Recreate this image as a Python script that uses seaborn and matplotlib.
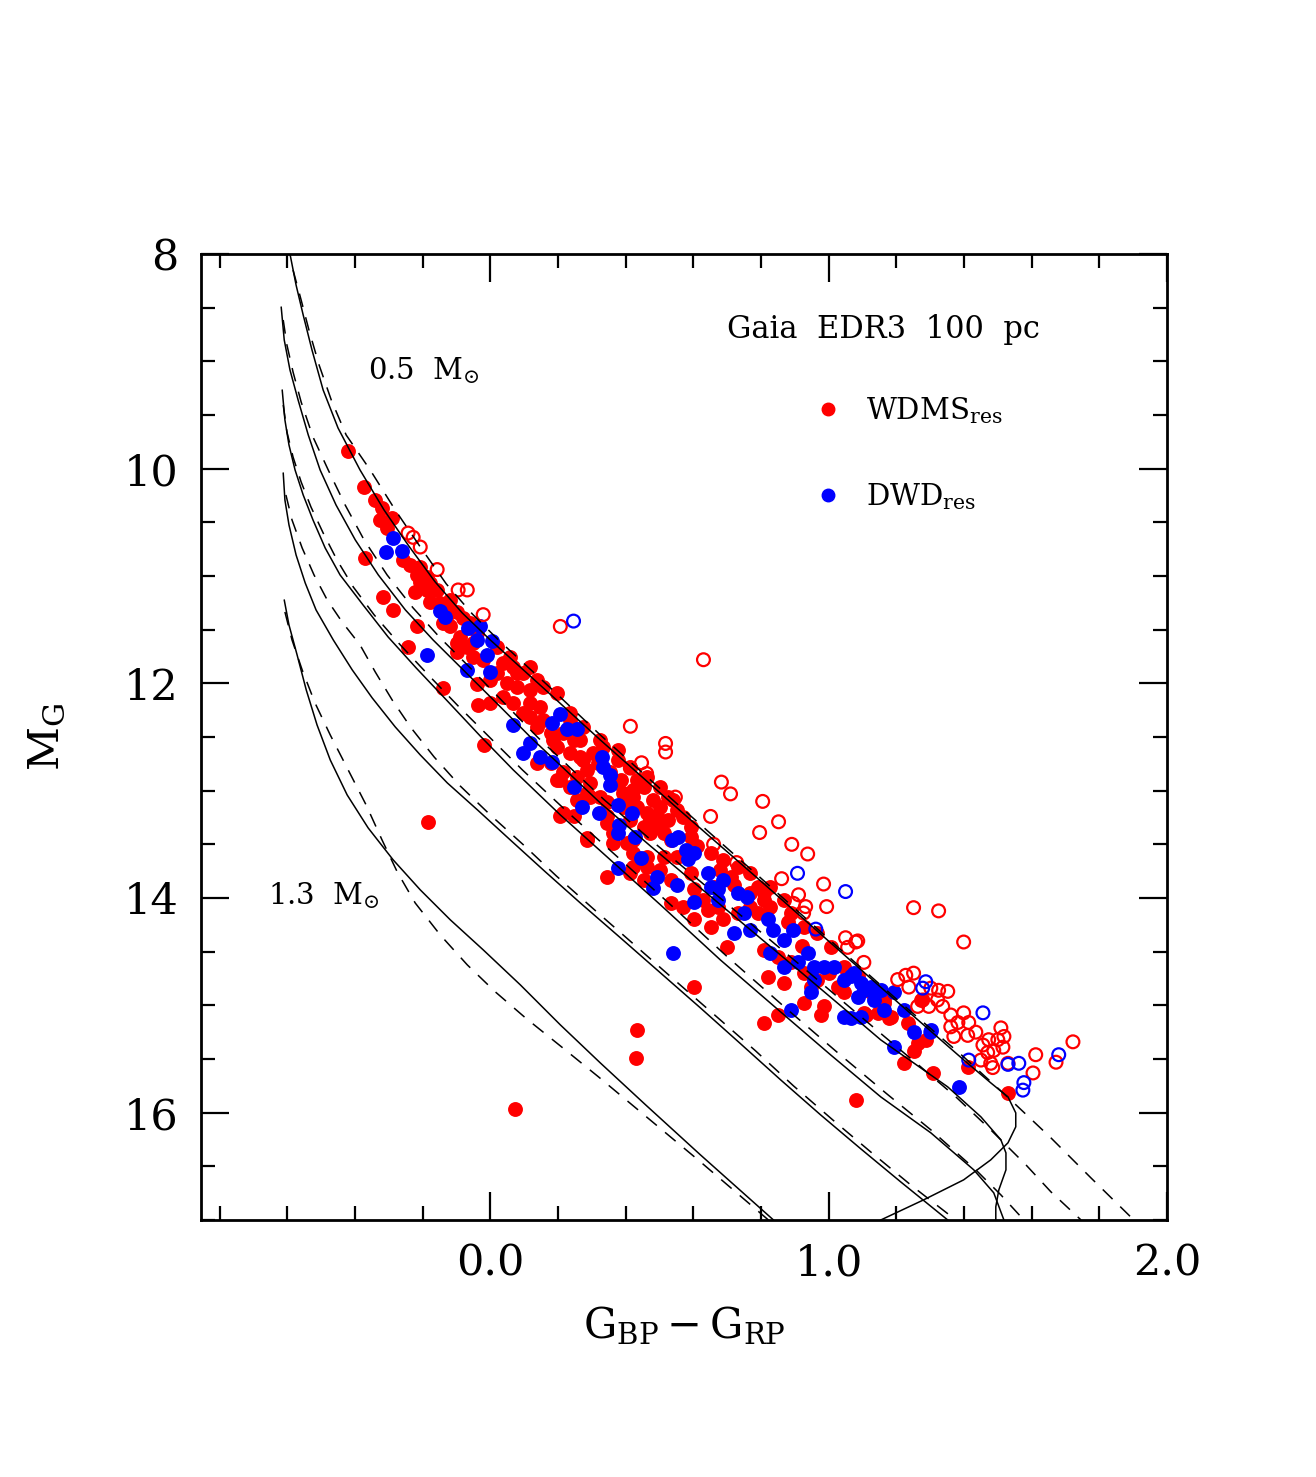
import numpy as np
import pandas as pd
import matplotlib
matplotlib.use('Agg')
import matplotlib.pyplot as plt
from matplotlib.lines import Line2D
from matplotlib.ticker import MultipleLocator, FixedLocator, FormatStrFormatter
import seaborn as sns

## cooling tracks (solid) and their dashed companions, colour vs M_G
trk_a_x = [-0.592, -0.574, -0.553, -0.527, -0.494, -0.450, -0.385, -0.314, -0.243, -0.163, -0.083, 0.000,
           0.163, 0.325, 0.562, 0.799, 1.036, 1.213, 1.399, 1.479, 1.530, 1.553, 1.553, 1.530, 1.479,
           1.399, 1.281, 1.154]
trk_a_y = [8.0, 8.289, 8.568, 8.894, 9.267, 9.621, 10.012, 10.385, 10.711, 11.055, 11.344, 11.596,
           12.061, 12.527, 13.189, 13.841, 14.502, 14.996, 15.508, 15.722, 15.853, 16.002, 16.132, 16.281,
           16.440, 16.626, 16.812, 17.0]
trk_b_x = [-0.618, -0.609, -0.592, -0.568, -0.538, -0.503, -0.456, -0.399, -0.331, -0.251, -0.169, -0.080,
           0.024, 0.127, 0.228, 0.325, 0.473, 0.621, 0.769, 0.917, 1.036, 1.154, 1.251, 1.352, 1.450,
           1.509, 1.524, 1.524, 1.503, 1.494, 1.494]
trk_b_y = [8.494, 8.801, 9.081, 9.360, 9.686, 10.012, 10.338, 10.664, 10.990, 11.316, 11.596, 11.875,
           12.201, 12.527, 12.825, 13.114, 13.515, 13.906, 14.297, 14.688, 15.005, 15.322, 15.536, 15.760,
           16.039, 16.253, 16.375, 16.533, 16.719, 16.877, 17.0]
trk_c_x = [-0.615, -0.607, -0.595, -0.577, -0.553, -0.524, -0.488, -0.444, -0.376, -0.302, -0.219, -0.127,
           -0.030, 0.068, 0.207, 0.355, 0.503, 0.680, 0.858, 1.006, 1.154, 1.302, 1.429, 1.488, 1.518]
trk_c_y = [9.267, 9.546, 9.779, 10.012, 10.245, 10.478, 10.739, 10.990, 11.270, 11.568, 11.857, 12.164,
           12.490, 12.807, 13.226, 13.645, 14.064, 14.577, 15.061, 15.462, 15.853, 16.188, 16.533, 16.747, 17.0]
trk_d_x = [-0.612, -0.607, -0.595, -0.574, -0.547, -0.515, -0.464, -0.408, -0.349, -0.281, -0.207, -0.127,
           -0.038, 0.059, 0.163, 0.266, 0.385, 0.503, 0.621, 0.740, 0.858, 0.976, 1.095, 1.213, 1.352]
trk_d_y = [10.040, 10.292, 10.524, 10.804, 11.065, 11.316, 11.596, 11.875, 12.136, 12.406, 12.667, 12.928,
           13.179, 13.459, 13.757, 14.046, 14.372, 14.698, 15.024, 15.359, 15.694, 16.020, 16.337, 16.645, 17.0]
trk_e_x = [-0.609, -0.595, -0.571, -0.544, -0.512, -0.473, -0.423, -0.361, -0.287, -0.207, -0.118, -0.021,
           0.089, 0.207, 0.325, 0.459, 0.621, 0.837]
trk_e_y = [11.223, 11.456, 11.735, 12.061, 12.388, 12.714, 13.040, 13.347, 13.645, 13.924, 14.204, 14.483,
           14.810, 15.182, 15.536, 15.927, 16.393, 17.0]

dsh_a_x = [-0.583, -0.559, -0.536, -0.506, -0.470, -0.426, -0.355, -0.281, -0.207, -0.130, -0.053, 0.024,
           0.178, 0.325, 0.562, 0.799, 1.036, 1.213, 1.399, 1.538, 1.657, 1.775, 1.902]
dsh_a_y = [8.149, 8.429, 8.708, 9.034, 9.360, 9.686, 10.012, 10.385, 10.729, 11.074, 11.354, 11.596,
           12.043, 12.481, 13.151, 13.813, 14.483, 14.977, 15.480, 15.881, 16.235, 16.607, 17.0]
dsh_b_x = [-0.612, -0.601, -0.583, -0.559, -0.524, -0.479, -0.429, -0.373, -0.305, -0.228, -0.148, -0.059,
           0.041, 0.142, 0.243, 0.337, 0.485, 0.633, 0.781, 0.929, 1.047, 1.166, 1.272, 1.376, 1.479,
           1.583, 1.657, 1.746]
dsh_b_y = [8.615, 8.848, 9.099, 9.379, 9.705, 10.012, 10.338, 10.664, 10.990, 11.298, 11.577, 11.857,
           12.183, 12.509, 12.807, 13.086, 13.487, 13.878, 14.269, 14.660, 14.977, 15.294, 15.573, 15.853,
           16.160, 16.486, 16.738, 17.0]
dsh_c_x = [-0.612, -0.601, -0.583, -0.559, -0.530, -0.494, -0.453, -0.405, -0.343, -0.266, -0.183, -0.095,
           0.000, 0.095, 0.231, 0.379, 0.527, 0.701, 0.876, 1.024, 1.172, 1.302, 1.435, 1.509, 1.577]
dsh_c_y = [9.407, 9.658, 9.891, 10.124, 10.357, 10.599, 10.851, 11.102, 11.363, 11.642, 11.922, 12.211,
           12.509, 12.807, 13.207, 13.626, 14.046, 14.549, 15.033, 15.434, 15.825, 16.160, 16.533, 16.766, 17.0]
dsh_d_x = [-0.604, -0.586, -0.556, -0.521, -0.482, -0.438, -0.385, -0.340, -0.290, -0.234, -0.166, -0.089,
           0.000, 0.098, 0.195, 0.305, 0.423, 0.544, 0.666, 0.784, 0.896, 1.012, 1.124, 1.246, 1.376]
dsh_d_y = [10.245, 10.478, 10.739, 10.990, 11.223, 11.428, 11.642, 11.894, 12.155, 12.415, 12.686, 12.956,
           13.226, 13.505, 13.794, 14.102, 14.428, 14.763, 15.098, 15.424, 15.750, 16.067, 16.365, 16.682, 17.0]
dsh_e_x = [-0.607, -0.586, -0.556, -0.518, -0.473, -0.420, -0.367, -0.320, -0.275, -0.222, -0.148, -0.068,
           0.015, 0.104, 0.207, 0.320, 0.444, 0.621, 0.822]
dsh_e_y = [11.335, 11.596, 11.875, 12.183, 12.481, 12.807, 13.133, 13.459, 13.757, 14.046, 14.344, 14.623,
           14.875, 15.117, 15.378, 15.667, 15.993, 16.458, 17.0]

## WDMS resolved, filled (red)
wdms_x = [-0.42, -0.373, -0.34, -0.32, -0.325, -0.29, -0.305, -0.37, -0.257, -0.237, -0.216, -0.207, -0.222,
          -0.186, -0.317, -0.178, -0.287, -0.148, -0.127, -0.098, -0.080, -0.139, -0.118, -0.216, -0.089,
          -0.038, -0.068, -0.243, -0.098, -0.050, -0.021, 0.038, 0.068, 0.098, 0.139, 0.021, 0.050, 0.080,
          0.118, 0.038, 0.068, 0.118, 0.148, -0.139, -0.038, -0.036, 0.098, 0.157, 0.139, 0.178, 0.216,
          0.246, 0.275, 0.198, 0.237, 0.266, 0.305, 0.317, 0.178, -0.018, 0.139, 0.216, 0.257, 0.296,
          0.198, 0.237, 0.296, 0.355, 0.385, 0.393, 0.423, 0.453, 0.482, 0.503, 0.524, 0.473, 0.414,
          0.393, 0.216, 0.246, 0.346, 0.364, 0.473, 0.512, 0.287, -0.183, 0.533, 0.405, 0.237, 0.186,
          0.287, 0.207, 0.376, 0.423, 0.287, 0.325, 0.257, 0.346, 0.405, 0.435, 0.464, 0.494, 0.494,
          0.453, 0.207, 0.346, 0.287, 0.364, 0.423, 0.592, 0.612, 0.553, 0.423, 0.464, 0.512, 0.423,
          0.464, 0.503, 0.346, 0.414, 0.453, 0.533, 0.592, 0.601, 0.680, 0.710, 0.660, 0.533, 0.571,
          0.630, 0.642, 0.672, 0.601, 0.651, 0.689, 0.731, 0.769, 0.808, 0.790, 0.828, 0.769, 0.808,
          0.701, 0.820, 0.867, 0.808, 0.849, 0.888, 0.926, 0.967, 1.027, 0.947, 0.926, 0.985, 0.976,
          0.808, 0.849, 0.601, 0.435, 1.044, 1.086, 1.124, 1.163, 1.183, 1.104, 1.145, 1.044, 1.109,
          1.178, 1.234, 1.263, 1.287, 1.251, 1.222, 1.308, 1.411, 1.530, 1.080, 1.272, 1.163, 0.432,
          0.074, 0.88, 0.92, 1.00, 0.72,
          0.000, 0.080, 0.118, 0.157, 0.198, 0.059, 0.021, -0.050, -0.098, -0.059, -0.118, -0.157, -0.186,
          -0.207, -0.178, -0.127, 0.000, 0.118, 0.237, 0.266, 0.334, 0.376, 0.414, 0.464, 0.503, 0.541,
          0.524, 0.553, 0.571, 0.592, 0.275, 0.325, 0.376, 0.435, 0.651, 0.689, 0.731, 0.769, 0.790,
          0.828, 0.867, 0.888, 0.926, 0.967, 1.006]
wdms_y = [9.84, 10.17, 10.29, 10.37, 10.48, 10.46, 10.55, 10.83, 10.85, 10.90, 10.99, 11.06, 11.15,
          11.13, 11.20, 11.24, 11.32, 11.25, 11.36, 11.34, 11.39, 11.44, 11.47, 11.47, 11.57,
          11.53, 11.66, 11.66, 11.71, 11.75, 11.78, 11.81, 11.85, 11.90, 11.97, 11.90, 12.00, 12.03,
          12.06, 12.13, 12.18, 12.18, 12.22, 12.04, 12.01, 12.20, 12.28, 12.34, 12.41, 12.46, 12.46,
          12.53, 12.41, 12.59, 12.65, 12.69, 12.65, 12.74, 12.74, 12.57, 12.74, 12.83, 12.87, 12.93,
          12.90, 12.97, 13.06, 12.83, 12.90, 13.02, 12.99, 12.97, 13.09, 13.15, 13.27, 13.27, 13.27,
          13.15, 13.21, 13.24, 13.24, 13.39, 13.39, 13.39, 13.46, 13.29, 13.46, 13.49, 12.34, 12.53,
          12.81, 12.90, 12.93, 13.06, 13.02, 13.06, 13.09, 13.11, 13.11, 13.15, 13.21, 13.24, 13.34,
          13.34, 13.24, 13.30, 13.44, 13.49, 13.46, 13.43, 13.52, 13.62, 13.58, 13.62, 13.62, 13.71,
          13.71, 13.74, 13.80, 13.77, 13.83, 13.83, 13.77, 13.92, 13.74, 13.80, 13.90, 14.05, 14.08,
          14.02, 14.11, 14.08, 14.20, 14.27, 14.20, 14.14, 14.08, 14.02, 14.14, 14.08, 13.95, 13.95,
          14.46, 14.74, 14.79, 14.48, 14.55, 14.60, 14.70, 14.76, 14.83, 14.83, 14.98, 15.01, 15.09,
          15.16, 15.09, 14.83, 15.23, 14.64, 14.73, 14.88, 14.95, 15.11, 15.07, 15.07, 14.88, 15.09,
          15.12, 15.16, 15.35, 15.32, 15.43, 15.54, 15.63, 15.57, 15.82, 15.88, 14.95, 14.98, 15.49,
          15.97, 14.22, 14.45, 14.70, 13.88,
          11.968, 11.903, 11.847, 12.034, 12.089, 11.754, 11.661, 11.624, 11.624, 11.437, 11.223, 11.130, 11.009,
          10.916, 11.065, 11.316, 12.183, 12.313, 12.276, 12.527, 12.592, 12.714, 12.779, 12.872, 12.965, 13.086,
          13.058, 13.179, 13.245, 13.338, 12.714, 12.527, 12.620, 12.900, 13.580, 13.645, 13.710, 13.766, 13.897,
          13.897, 14.018, 14.139, 14.269, 14.325, 14.456]

## WDMS, open (red)
wdms_open_x = [-0.243, -0.228, -0.207, -0.157, -0.095, -0.068, -0.021, 0.207, 0.630, 0.414, 0.518, 0.518,
               0.414, 0.447, 0.462, 0.683, 0.710, 0.547, 0.805, 0.651, 0.852, 0.796, 0.891, 0.938, 0.660,
               0.728, 0.861, 0.985, 0.911, 0.896, 0.932, 0.994, 0.926, 1.050, 1.086, 1.056, 1.104, 1.204,
               1.251, 1.325, 1.399, 1.080, 1.228, 1.251, 1.302, 1.325, 1.352, 1.237, 1.322, 1.278, 1.263,
               1.296, 1.337, 1.361, 1.399, 1.382, 1.414, 1.435, 1.509, 1.500, 1.473, 1.456, 1.518, 1.515,
               1.488, 1.470, 1.479, 1.450, 1.530, 1.485, 1.612, 1.722, 1.604, 1.672, 1.361, 1.370, 1.411]
wdms_open_y = [10.60, 10.64, 10.73, 10.94, 11.13, 11.13, 11.36, 11.47, 11.78, 12.40, 12.56, 12.64,
               12.79, 12.74, 12.84, 12.92, 13.03, 13.06, 13.10, 13.24, 13.29, 13.39, 13.50, 13.59, 13.50,
               13.67, 13.82, 13.87, 13.97, 14.05, 14.08, 14.08, 14.14, 14.37, 14.40, 14.46, 14.60, 14.76,
               14.09, 14.12, 14.41, 14.41, 14.72, 14.70, 14.84, 14.86, 14.87, 14.83, 14.95, 14.95, 15.01,
               15.01, 15.01, 15.09, 15.07, 15.16, 15.16, 15.25, 15.21, 15.32, 15.32, 15.37, 15.29, 15.39,
               15.42, 15.44, 15.54, 15.51, 15.54, 15.58, 15.46, 15.34, 15.63, 15.53, 15.20, 15.29, 15.28]

## DWD resolved, filled (blue)
dwd_x = [-0.287, -0.308, -0.260, -0.148, -0.133, -0.186, -0.065, -0.030, -0.038, 0.006, -0.009, -0.068,
         0.000, 0.207, 0.183, 0.228, 0.257, 0.068, 0.118, 0.098, 0.148, 0.183, 0.331, 0.334, 0.355, 0.355,
         0.246, 0.272, 0.320, 0.376, 0.420, 0.379, 0.376, 0.429, 0.538, 0.556, 0.577, 0.601, 0.583, 0.444,
         0.376, 0.494, 0.482, 0.553, 0.601, 0.642, 0.651, 0.672, 0.689, 0.672, 0.731, 0.760, 0.749, 0.719,
         0.769, 0.820, 0.837, 0.867, 0.896, 0.828, 0.867, 0.908, 0.938, 0.956, 0.985, 1.015, 1.044, 1.074,
         1.104, 1.133, 1.163, 1.095, 1.044, 0.888, 0.947, 0.541, 1.192, 0.956, 1.065, 1.095, 1.124, 1.154,
         1.086, 1.192, 1.222, 1.251, 1.385, 1.302, 1.065]
dwd_y = [10.65, 10.78, 10.77, 11.33, 11.38, 11.74, 11.48, 11.47, 11.60, 11.61, 11.74, 11.88,
         11.89, 12.29, 12.37, 12.43, 12.43, 12.39, 12.56, 12.65, 12.69, 12.73, 12.69, 12.78, 12.85, 12.95,
         12.97, 13.15, 13.21, 13.13, 13.21, 13.32, 13.39, 13.43, 13.46, 13.43, 13.55, 13.58, 13.64, 13.63,
         13.72, 13.80, 13.91, 13.88, 14.04, 13.77, 13.90, 13.92, 13.83, 14.02, 13.95, 13.99, 14.14, 14.33,
         14.30, 14.20, 14.30, 14.39, 14.30, 14.51, 14.64, 14.60, 14.51, 14.64, 14.64, 14.64, 14.76, 14.70,
         14.86, 14.95, 15.04, 15.11, 15.11, 15.04, 14.88, 14.51, 15.39, 14.76, 14.73, 14.79, 14.83, 14.86,
         14.92, 14.88, 15.04, 15.25, 15.76, 15.23, 15.12]

## DWD, open (blue)
dwd_open_x = [0.246, 0.908, 1.050, 0.962, 1.287, 1.278, 1.456, 1.414, 1.530, 1.562, 1.577, 1.574, 1.680, 1.302]
dwd_open_y = [11.42, 13.77, 13.94, 14.29, 14.78, 14.84, 15.07, 15.51, 15.55, 15.54, 15.72, 15.79, 15.46, 15.25]

solid_tracks = [(trk_a_x, trk_a_y), (trk_b_x, trk_b_y), (trk_c_x, trk_c_y), (trk_d_x, trk_d_y), (trk_e_x, trk_e_y)]
dashed_tracks = [(dsh_a_x, dsh_a_y), (dsh_b_x, dsh_b_y), (dsh_c_x, dsh_c_y), (dsh_d_x, dsh_d_y), (dsh_e_x, dsh_e_y)]

sns.set_style('ticks')
plt.rcParams['font.family'] = ['DejaVu Serif']
plt.rcParams['mathtext.fontset'] = 'dejavuserif'
for k in ['text.color', 'axes.labelcolor', 'xtick.color', 'ytick.color', 'axes.edgecolor']:
    plt.rcParams[k] = 'black'

fig = plt.figure(figsize=(13.16, 14.77), dpi=100)
ax = fig.add_axes([201/1316, 1 - 1220/1477, 966/1316, 966/1477])

# points
sns.scatterplot(x=wdms_x, y=wdms_y, color='red', s=115, linewidth=0, ax=ax, zorder=2, legend=False)
sns.scatterplot(x=dwd_x, y=dwd_y, color='blue', s=115, linewidth=0, ax=ax, zorder=2, legend=False)
sns.scatterplot(x=wdms_open_x, y=wdms_open_y, facecolor='none', edgecolor='red', s=85, linewidth=1.6,
                ax=ax, zorder=2, legend=False)
sns.scatterplot(x=dwd_open_x, y=dwd_open_y, facecolor='none', edgecolor='blue', s=85, linewidth=1.6,
                ax=ax, zorder=2, legend=False)

# tracks
for tx, ty in solid_tracks:
    sns.lineplot(x=tx, y=ty, sort=False, estimator=None, color='black', lw=1.1, ax=ax, zorder=3)
for tx, ty in dashed_tracks:
    sns.lineplot(x=tx, y=ty, sort=False, estimator=None, color='black', lw=1.1,
                 linestyle=(0, (9, 7)), ax=ax, zorder=3)

ax.set_xlim(-0.855, 2.0)
ax.set_ylim(17, 8)

ax.xaxis.set_major_locator(FixedLocator([0, 1, 2]))
ax.xaxis.set_major_formatter(FormatStrFormatter('%.1f'))
ax.xaxis.set_minor_locator(MultipleLocator(0.2))
ax.yaxis.set_major_locator(MultipleLocator(2))
ax.yaxis.set_minor_locator(MultipleLocator(0.5))
ax.tick_params(which='both', direction='in', top=True, right=True, width=1.6, labelsize=31)
ax.tick_params(which='major', length=20, pad=16)
ax.tick_params(which='minor', length=10)
for sp in ax.spines.values():
    sp.set_linewidth(2)

ax.set_xlabel(r'$\mathrm{G_{BP}-G_{RP}}$', fontsize=30)
ax.set_ylabel(r'$\mathrm{M_G}$', fontsize=31)
ax.xaxis.set_label_coords(0.5, -0.088)
ax.yaxis.set_label_coords(-0.138, 0.5)

ax.text(-0.36, 9.17, r'0.5  $\mathrm{M_{\odot}}$', fontsize=21, va='baseline')
ax.text(-0.657, 14.06, r'1.3  $\mathrm{M_{\odot}}$', fontsize=21, va='baseline')
ax.text(0.70, 8.78, 'Gaia  EDR3  100  pc', fontsize=22, va='baseline')

handles = [Line2D([], [], marker='o', ls='none', color='red', ms=9),
           Line2D([], [], marker='o', ls='none', color='blue', ms=9)]
ax.legend(handles, [r'$\mathrm{WDMS_{res}}$', r'$\mathrm{DWD_{res}}$'], fontsize=21, frameon=False,
          handlelength=0.8, handletextpad=0.9, labelspacing=1.9, loc='upper left',
          bbox_to_anchor=(0.637, 0.854), borderaxespad=0, borderpad=0)

fig.savefig('out.png', dpi=100)
